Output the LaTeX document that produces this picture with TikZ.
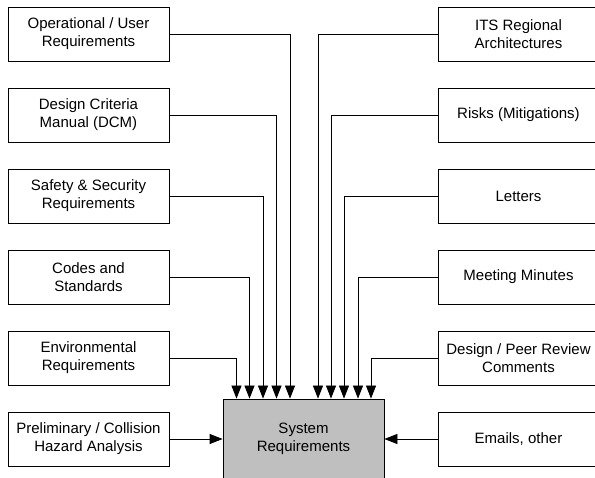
\documentclass[tikz,border=0pt]{standalone}
\usepackage{fontspec}
\setmainfont{Liberation Sans}
\usetikzlibrary{arrows.meta}
\tikzset{
  srcbox/.style={draw=black, line width=0.8pt, fill=white, minimum width=161pt,
    minimum height=54pt, inner sep=0pt, align=center,
    font=\fontsize{15}{18}\selectfont},
  sysbox/.style={draw=black, line width=0.8pt, fill=black!25, minimum width=161pt,
    minimum height=80pt, inner sep=0pt, align=center,
    font=\fontsize{15}{18}\selectfont},
  feed/.style={draw=black, line width=0.8pt, -{Triangle[length=13pt,width=10pt]}}
}
\begin{document}
\begin{tikzpicture}[x=1pt,y=-1pt]
\useasboundingbox (0,0) rectangle (595,478);
\clip (0,0) rectangle (595,478);
\fill[white] (0,0) rectangle (595,478);

% inputs on the left
\node[srcbox] (L1) at (88.5,34)  {Operational / User\\Requirements};
\node[srcbox] (L2) at (88.5,115) {Design Criteria\\Manual (DCM)};
\node[srcbox] (L3) at (88.5,196) {Safety \& Security\\Requirements};
\node[srcbox] (L4) at (88.5,277) {Codes and\\Standards};
\node[srcbox] (L5) at (88.5,358) {Environmental\\Requirements};
\node[srcbox] (L6) at (88.5,439) {Preliminary / Collision\\Hazard Analysis};

% inputs on the right
\node[srcbox] (R1) at (518.5,34)  {ITS Regional\\Architectures};
\node[srcbox] (R2) at (518.5,115) {Risks (Mitigations)};
\node[srcbox] (R3) at (518.5,196) {Letters};
\node[srcbox] (R4) at (518.5,277) {Meeting Minutes};
\node[srcbox] (R5) at (518.5,358) {Design / Peer Review\\Comments};
\node[srcbox] (R6) at (518.5,439) {Emails, other};

% the target
\node[sysbox] (S) at (303.5,439) {System\\Requirements};

% feeds into the top edge
\draw[feed] (L1.east) -| ([xshift=-13.5pt]S.north);
\draw[feed] (L2.east) -| ([xshift=-27pt]S.north);
\draw[feed] (L3.east) -| ([xshift=-40.5pt]S.north);
\draw[feed] (L4.east) -| ([xshift=-54pt]S.north);
\draw[feed] (L5.east) -| ([xshift=-67pt]S.north);
\draw[feed] (R1.west) -| ([xshift=14.5pt]S.north);
\draw[feed] (R2.west) -| ([xshift=27.5pt]S.north);
\draw[feed] (R3.west) -| ([xshift=40.5pt]S.north);
\draw[feed] (R4.west) -| ([xshift=54.5pt]S.north);
\draw[feed] (R5.west) -| ([xshift=67.5pt]S.north);

% feeds into the sides
\draw[feed] (L6.east) -- (S.west);
\draw[feed] (R6.west) -- (S.east);
\end{tikzpicture}
\end{document}
